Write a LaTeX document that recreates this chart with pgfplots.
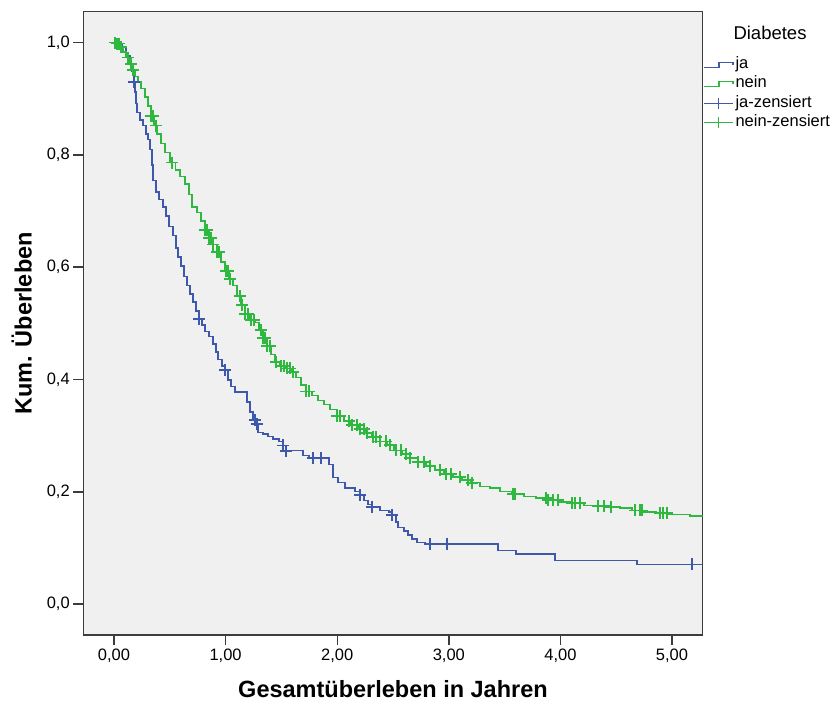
\documentclass[border=0pt]{standalone}
\usepackage{fontspec}
\setmainfont{Liberation Sans}
\usepackage{pgfplots}
\pgfplotsset{compat=1.18}
\definecolor{kmblue}{RGB}{62,88,172}
\definecolor{kmgreen}{RGB}{46,184,64}
\definecolor{panel}{RGB}{240,240,240}
\definecolor{frame}{RGB}{60,60,60}

% Kaplan-Meier estimates (time in years, cumulative survival)
\pgfplotstableread{
t S
0.000 1.000
0.036 0.996
0.072 0.991
0.108 0.976
0.143 0.962
0.161 0.948
0.179 0.930
0.188 0.912
0.197 0.891
0.206 0.875
0.233 0.862
0.260 0.852
0.287 0.837
0.305 0.827
0.323 0.809
0.341 0.782
0.349 0.755
0.376 0.734
0.403 0.720
0.439 0.707
0.466 0.691
0.493 0.673
0.529 0.656
0.556 0.634
0.573 0.618
0.600 0.602
0.627 0.584
0.654 0.568
0.681 0.552
0.708 0.538
0.735 0.522
0.762 0.508
0.789 0.497
0.815 0.486
0.851 0.476
0.887 0.463
0.914 0.449
0.932 0.435
0.968 0.424
0.995 0.417
1.022 0.399
1.048 0.388
1.084 0.378
1.192 0.360
1.219 0.342
1.246 0.328
1.272 0.321
1.290 0.306
1.335 0.303
1.380 0.299
1.425 0.294
1.478 0.289
1.514 0.283
1.541 0.273
1.694 0.265
1.747 0.260
1.927 0.249
1.962 0.226
2.007 0.216
2.070 0.207
2.159 0.201
2.204 0.194
2.240 0.185
2.276 0.178
2.312 0.173
2.384 0.167
2.464 0.164
2.491 0.159
2.527 0.146
2.545 0.137
2.599 0.130
2.634 0.123
2.670 0.116
2.715 0.110
2.787 0.107
3.441 0.096
3.602 0.089
3.952 0.078
4.686 0.071
5.275 0.071
}\ja

\pgfplotstableread{
t S
0.000 1.000
0.027 0.998
0.054 0.992
0.081 0.983
0.108 0.973
0.134 0.962
0.161 0.951
0.188 0.939
0.215 0.930
0.242 0.918
0.278 0.903
0.305 0.887
0.332 0.869
0.358 0.852
0.385 0.837
0.421 0.820
0.457 0.804
0.502 0.786
0.548 0.773
0.591 0.761
0.636 0.748
0.672 0.729
0.699 0.707
0.744 0.698
0.780 0.682
0.815 0.666
0.851 0.652
0.887 0.640
0.923 0.627
0.959 0.609
0.995 0.593
1.030 0.579
1.066 0.567
1.102 0.549
1.138 0.533
1.174 0.517
1.219 0.506
1.263 0.502
1.299 0.488
1.335 0.474
1.371 0.460
1.407 0.444
1.443 0.431
1.487 0.424
1.541 0.420
1.586 0.413
1.631 0.403
1.676 0.390
1.720 0.379
1.774 0.371
1.828 0.362
1.882 0.355
1.935 0.346
1.998 0.335
2.061 0.326
2.124 0.319
2.186 0.312
2.249 0.305
2.312 0.298
2.384 0.290
2.446 0.283
2.509 0.274
2.581 0.267
2.652 0.260
2.724 0.253
2.796 0.246
2.876 0.239
2.957 0.232
3.038 0.226
3.118 0.221
3.199 0.216
3.280 0.210
3.369 0.207
3.459 0.201
3.566 0.196
3.674 0.192
3.781 0.189
3.889 0.185
3.996 0.182
4.104 0.180
4.211 0.176
4.319 0.175
4.427 0.173
4.534 0.171
4.642 0.167
4.749 0.164
4.857 0.162
4.964 0.160
5.072 0.159
5.161 0.157
5.275 0.157
}\nein

% censored observations
\pgfplotstableread{
t S
0.179 0.930
0.762 0.508
0.995 0.417
1.263 0.328
1.281 0.321
1.514 0.283
1.541 0.273
1.783 0.260
1.855 0.260
2.204 0.194
2.312 0.173
2.491 0.159
2.832 0.107
2.984 0.107
5.179 0.071
}\jacens

\pgfplotstableread{
t S
0.009 1.000
0.027 0.998
0.045 0.998
0.063 0.992
0.125 0.973
0.152 0.962
0.170 0.951
0.332 0.869
0.349 0.869
0.376 0.852
0.520 0.786
0.815 0.666
0.833 0.666
0.851 0.652
0.869 0.652
0.887 0.640
0.923 0.627
0.941 0.627
1.004 0.593
1.022 0.593
1.039 0.579
1.129 0.549
1.147 0.533
1.174 0.517
1.201 0.517
1.228 0.506
1.254 0.506
1.317 0.488
1.335 0.474
1.353 0.474
1.371 0.460
1.398 0.460
1.452 0.431
1.496 0.424
1.523 0.424
1.550 0.420
1.577 0.420
1.604 0.413
1.720 0.379
1.747 0.379
1.998 0.335
2.025 0.335
2.106 0.326
2.133 0.319
2.177 0.319
2.204 0.312
2.240 0.312
2.267 0.305
2.321 0.298
2.348 0.298
2.384 0.290
2.437 0.290
2.473 0.283
2.527 0.274
2.572 0.274
2.616 0.267
2.652 0.260
2.724 0.253
2.778 0.253
2.832 0.246
2.921 0.239
2.975 0.232
3.020 0.232
3.100 0.226
3.172 0.221
3.208 0.216
3.575 0.196
3.593 0.196
3.871 0.189
3.889 0.185
3.934 0.185
3.978 0.185
4.104 0.180
4.131 0.180
4.176 0.180
4.337 0.175
4.391 0.175
4.453 0.173
4.668 0.167
4.713 0.167
4.731 0.167
4.892 0.162
4.919 0.162
4.955 0.162
}\neincens

\begin{document}
\begin{tikzpicture}
\begin{axis}[
  scale only axis,
  width=619.4pt, height=623.3pt,
  xmin=-0.275, xmax=5.275,
  ymin=-0.055, ymax=1.055,
  axis background/.style={fill=panel},
  axis line style={frame, line width=1.4pt},
  xtick={0,1,2,3,4,5},
  ytick={0,0.2,0.4,0.6,0.8,1},
  tick align=outside,
  xtick pos=bottom, ytick pos=left,
  major tick length=10pt,
  tick style={frame, line width=1.4pt},
  /pgf/number format/assume math mode=true,
  tick label style={font=\fontsize{16.5}{19}\selectfont},
  xticklabel style={/pgf/number format/fixed, /pgf/number format/fixed zerofill,
    /pgf/number format/precision=2, /pgf/number format/use comma},
  yticklabel style={/pgf/number format/fixed, /pgf/number format/fixed zerofill,
    /pgf/number format/precision=1, /pgf/number format/use comma},
  xlabel={Gesamtüberleben in Jahren},
  ylabel={Kum. Überleben},
  xlabel style={font=\bfseries\fontsize{23.5}{28}\selectfont,
    at={([yshift=-62pt]axis description cs:0.5,0)}, anchor=base},
  ylabel style={font=\bfseries\fontsize{23.5}{28}\selectfont,
    at={([xshift=-51.6pt]axis description cs:0,0.5)}, anchor=base, rotate=0},
  legend cell align=left,
  legend style={at={(1,1)}, anchor=north west, xshift=0.5pt, yshift=-45pt,
    draw=none, fill=none, inner sep=0pt, outer sep=0pt,
    font=\fontsize{16.5}{19}\selectfont,
    row sep=3.3pt,
    nodes={inner sep=0pt, text height=12pt, text depth=4pt},
    /tikz/every odd column/.append style={column sep=2pt}},
]
\coordinate (SW) at (rel axis cs:0,0);
\coordinate (NE) at (rel axis cs:1,1);

\addplot[kmblue, line width=1.3pt, const plot mark left, mark=none,
  legend image code/.code={\draw[kmblue, line width=1.3pt]
    (0pt,-2.5pt) -- (15pt,-2.5pt) -- (15pt,2.5pt) -- (29pt,2.5pt) -- (29pt,-0.5pt);}]
  table[x=t, y=S] {\ja};
\addlegendentry{ja}

\addplot[kmgreen, line width=1.3pt, const plot mark left, mark=none,
  legend image code/.code={\draw[kmgreen, line width=1.3pt]
    (0pt,-2.5pt) -- (15pt,-2.5pt) -- (15pt,2.5pt) -- (29pt,2.5pt) -- (29pt,-0.5pt);}]
  table[x=t, y=S] {\nein};
\addlegendentry{nein}

\addplot[kmblue, only marks, mark=+, mark size=6pt, mark options={line width=1.4pt},
  legend image code/.code={\draw[kmblue, line width=1.3pt] (0pt,0pt) -- (29pt,0pt);
    \draw[kmblue, line width=1.3pt] (14.5pt,-5.5pt) -- (14.5pt,5.5pt);}]
  table[x=t, y=S] {\jacens};
\addlegendentry{ja-zensiert}

\addplot[kmgreen, only marks, mark=+, mark size=6pt, mark options={line width=1.5pt},
  legend image code/.code={\draw[kmgreen, line width=1.3pt] (0pt,0pt) -- (29pt,0pt);
    \draw[kmgreen, line width=1.3pt] (14.5pt,-5.5pt) -- (14.5pt,5.5pt);}]
  table[x=t, y=S] {\neincens};
\addlegendentry{nein-zensiert}
\end{axis}

\node[font=\fontsize{18.5}{22}\selectfont, anchor=base]
  at ([xshift=67.3pt, yshift=-28.3pt]NE) {Diabetes};

\useasboundingbox ([xshift=-83.3pt, yshift=-67pt]SW) rectangle ++(835pt,702pt);
\end{tikzpicture}
\end{document}
